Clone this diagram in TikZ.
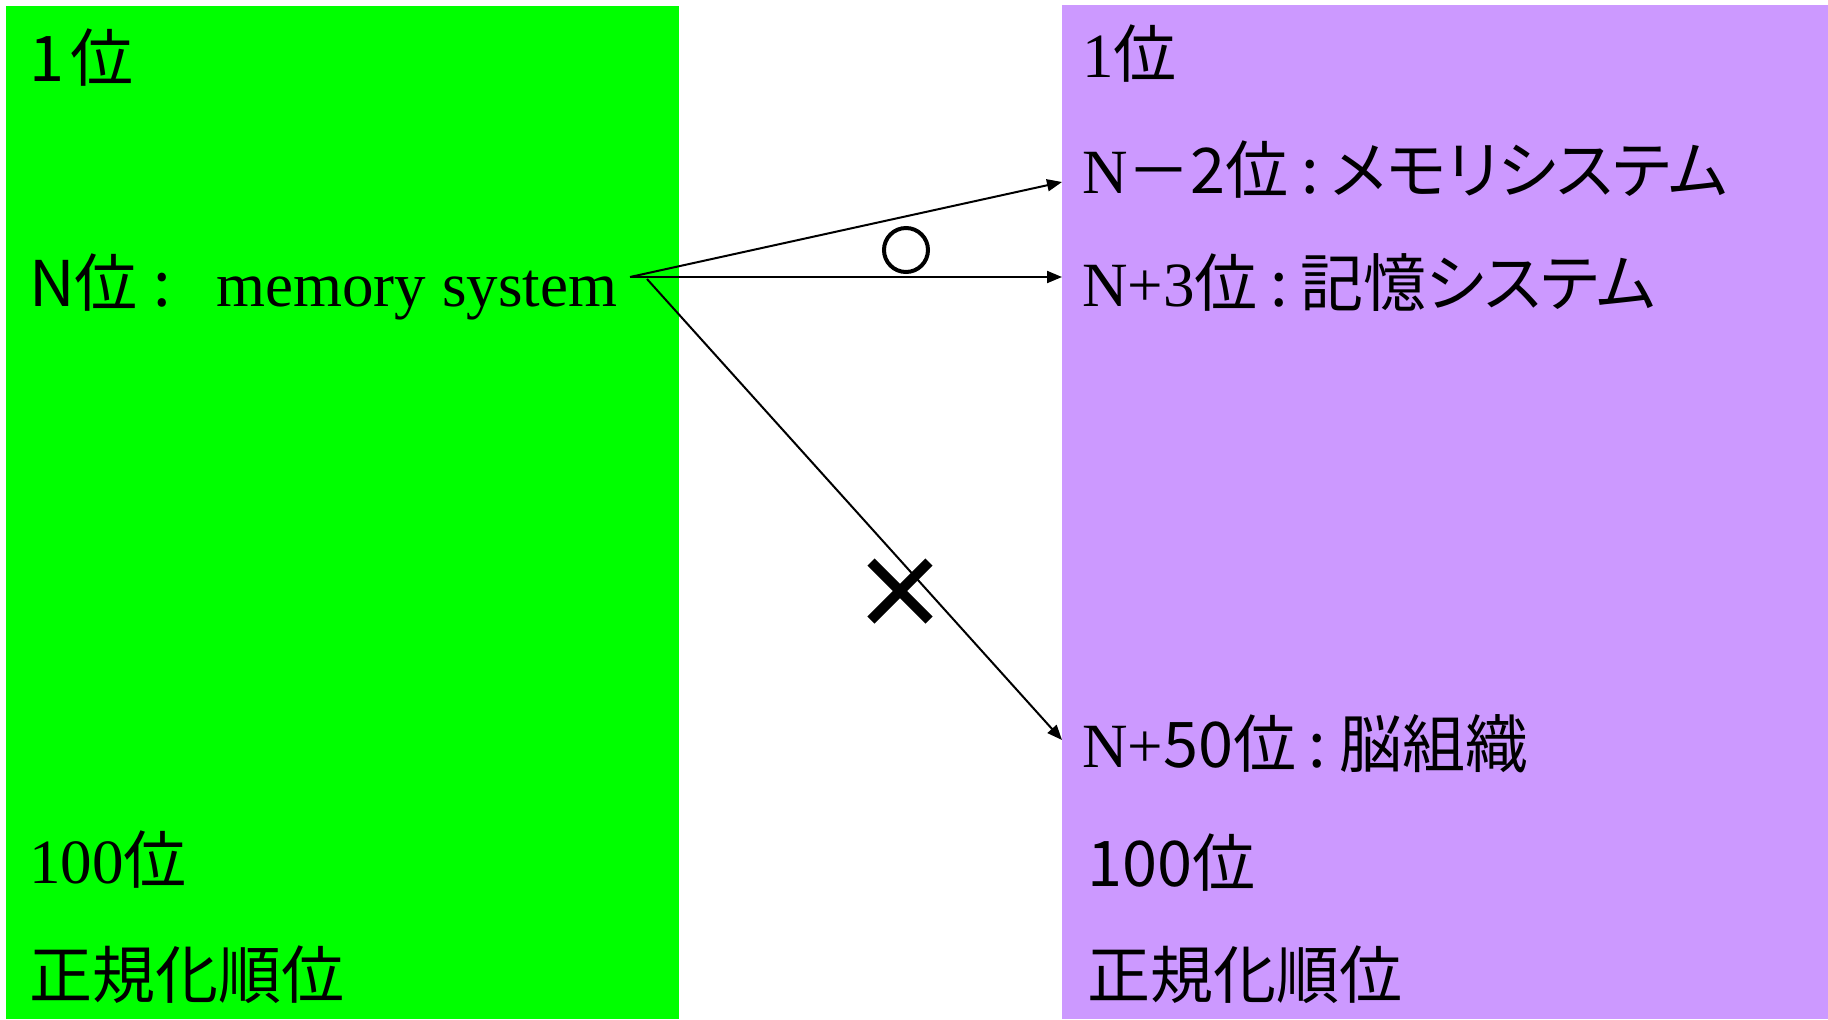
\documentclass[tikz,border=0pt]{standalone}
\usepackage{fontspec}
\setmainfont{Liberation Serif}
\newfontfamily\jp{Noto Sans CJK JP}
\newfontfamily\jpp[RawFeature=+palt]{Noto Sans CJK JP}
\usetikzlibrary{shapes.misc,arrows.meta}
\definecolor{boxgreen}{RGB}{0,255,0}
\definecolor{boxpurple}{RGB}{204,153,255}
\newcommand{\jcolon}{\hspace{0.2em}:\hspace{0.2em}}
\begin{document}
\begin{tikzpicture}[x=0.5pt,y=-0.5pt,
  lbl/.style={anchor=base west, inner sep=0pt, font=\fontsize{31.5pt}{36pt}\selectfont},
  conn/.style={line width=1pt, -{Triangle[length=7.5pt,width=6pt]}},
  okmark/.style={circle, draw, line width=2pt, minimum size=22pt, inner sep=0pt},
  ngmark/.style={cross out, draw, line width=5pt, minimum size=24pt, inner sep=0pt},
]
\useasboundingbox (0,0) rectangle (1828,1019);
\fill[boxgreen] (6,6) rectangle (679,1019);
\fill[boxpurple] (1062,5) rectangle (1828,1019);

% left column
\node[lbl] (l1) at (29,81) {{\jp 1\hspace{0.1em}位}};
\node[lbl] (l2) at (29,306) {{\jp N位\hspace{0.25em}:}};
\node[lbl] (l2b) at (216,306) {memory system};
\node[lbl] (l3) at (29,883) {100{\jp 位}};
\node[lbl] (l4) at (29,998) {{\jp 正規化順位}};

% right column
\node[lbl] (r1) at (1082,77) {1{\jp 位}};
\node[lbl] (r2) at (1082,193) {N{\jpp －2位\jcolon メモリシステム}};
\node[lbl] (r3) at (1082,306) {N+3{\jpp 位\jcolon 記憶システム}};
\node[lbl] (r4) at (1082,767) {N+{\jpp 50位\jcolon 脳組織}};
\node[lbl] (r5) at (1087,886) {{\jp 100位}};
\node[lbl] (r6) at (1087,998) {{\jp 正規化順位}};

% connectors
\coordinate (src) at (630,277);
\coordinate (src2) at (647,279);
\coordinate (t2) at (1062,182);
\coordinate (t3) at (1062,277);
\coordinate (t4) at (1062,740);
\draw[conn] (src) -- (t2);
\draw[conn] (src) -- (t3);
\draw[conn] (src2) -- (t4);

\node[okmark] (ok) at (906,250) {};
\node[ngmark] (ng) at (900,591) {};
\end{tikzpicture}
\end{document}
